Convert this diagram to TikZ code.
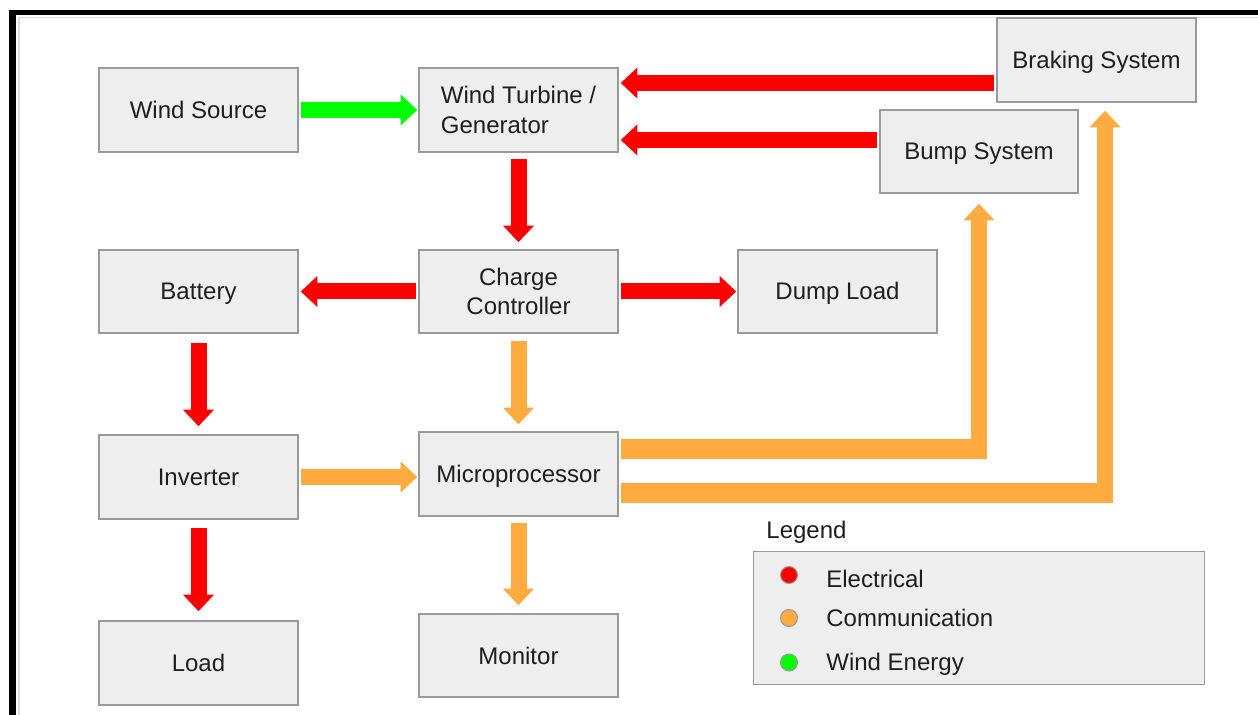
\documentclass[tikz,border=0pt]{standalone}
\usepackage{fontspec}
\setmainfont{Liberation Sans}
\usetikzlibrary{arrows.meta,calc}
\definecolor{boxfill}{HTML}{EEEEEE}
\definecolor{boxline}{HTML}{9A9A9A}
\definecolor{textcol}{HTML}{1E1E1E}
\definecolor{elecred}{HTML}{FF0000}
\definecolor{commorange}{HTML}{FFAB40}
\definecolor{windgreen}{HTML}{00FF00}
\definecolor{framegray}{HTML}{DDDDDD}
\begin{document}
\begin{tikzpicture}[x=0.5pt,y=-0.5pt,
  box/.style={draw=boxline, fill=boxfill, line width=0.8pt, minimum width=99.5pt,
    minimum height=42pt, inner sep=0pt, font=\fontsize{12}{14.75}\selectfont,
    text=textcol, align=center},
  one/.style={text height=9pt, text depth=0.5pt},
  fat/.style={line width=8pt, -{Triangle[width=15.5pt,length=8.25pt,line width=0pt]}},
  elec/.style={fat, draw=elecred, fill=elecred},
  comm/.style={fat, draw=commorange, fill=commorange},
  wind/.style={fat, draw=windgreen, fill=windgreen},
  commbar/.style={draw=commorange, line width=10pt},
  dot/.style={circle, draw=boxline, line width=0.5pt, minimum size=8.5pt, inner sep=0pt},
  legtext/.style={font=\fontsize{12}{14.75}\selectfont, text=textcol, inner sep=0pt}
]
\useasboundingbox (0,0) rectangle (1258,715);
\fill[white] (0,0) rectangle (1258,715);
% frame
\draw[framegray, line width=0.75pt] (19,715) |- (1258,17.5);
\fill[black] (9,10) rectangle (1258,15.5);
\fill[black] (9,10) rectangle (16,715);

% boxes
\node[box, one] (ws) at (198.5,110) {Wind Source};
\node[box, align=left] (wt) at (518.5,110) {Wind Turbine /\\Generator};
\node[box, one] (brake) at (1096.5,60) {Braking System};
\node[box, one, minimum width=99pt, minimum height=41.5pt] (bump) at (979,151.5) {Bump System};
\node[box, one, minimum height=41.5pt] (bat) at (198.5,291.5) {Battery};
\node[box, minimum height=41.5pt] (cc) at (518.5,291.5) {Charge\\Controller};
\node[box, one, minimum height=41.5pt] (dump) at (837.5,291.5) {Dump Load};
\node[box, one] (inv) at (198.5,477) {Inverter};
\node[box, one] (mp) at (518.5,474) {Microprocessor};
\node[box, one] (load) at (198.5,663) {Load};
\node[box, one, minimum height=41.5pt] (mon) at (518.5,655.5) {Monitor};

% connectors
\draw[wind, shorten <=1pt, shorten >=0.5pt] (ws.east) -- (wt.west);
\draw[elec, shorten <=1pt, shorten >=1pt] ($(brake.west)+(0,23)$) coordinate (b1) -- (b1 -| wt.east);
\draw[elec, shorten <=1pt, shorten >=1pt] ($(bump.west)+(0,-11.5)$) coordinate (b2) -- (b2 -| wt.east);
\draw[elec, shorten <=3pt, shorten >=3.5pt] (wt.south) -- (cc.north);
\draw[elec, shorten <=1pt, shorten >=1pt] (cc.west) -- (bat.east);
\draw[elec, shorten <=1pt, shorten >=0.5pt] (cc.east) -- (dump.west);
\draw[elec, shorten <=4.5pt, shorten >=4pt] (bat.south) -- (inv.north);
\draw[comm, shorten <=3.5pt, shorten >=3.5pt] (cc.south) -- (mp.north);
\draw[comm, shorten <=1pt, shorten >=0.5pt] (inv.east) -- (inv.east -| mp.west);
\draw[elec, shorten <=4pt, shorten >=4.5pt] (inv.south) -- (load.north);
\draw[comm, shorten <=3pt, shorten >=4pt] (mp.south) -- (mon.north);

% microprocessor -> bump system
\coordinate (c1) at ($(bump.south |- mp.east)+(0,-25)$);
\draw[commbar] ([xshift=1pt]mp.east |- c1) -- ([xshift=4pt]c1);
\draw[comm, shorten >=5pt] ([yshift=-5pt]c1) -- (bump.south);
% microprocessor -> braking system
\coordinate (c2) at ($(brake.south |- mp.east)+(8.5,19)$);
\draw[commbar] ([xshift=1pt]mp.east |- c2) -- ([xshift=4pt]c2);
\draw[comm, shorten >=4pt] ([yshift=-5pt]c2) -- (c2 |- brake.south);

% legend
\node[legtext, anchor=base west] (legtitle) at (766,539) {Legend};
\node[draw=boxline, fill=boxfill, line width=0.8pt, minimum width=225.5pt,
  minimum height=66.5pt, inner sep=0pt] (legend) at (979,618) {};
\node[dot, fill=elecred] (d1) at (789,575) {};
\node[dot, fill=commorange] (d2) at (789,618) {};
\node[dot, fill=windgreen] (d3) at (789,662.5) {};
\node[legtext, anchor=base west] (l1) at (826,587.5) {Electrical};
\node[legtext, anchor=base west] (l2) at (826,626.5) {Communication};
\node[legtext, anchor=base west] (l3) at (826,670.5) {Wind Energy};
\end{tikzpicture}
\end{document}
